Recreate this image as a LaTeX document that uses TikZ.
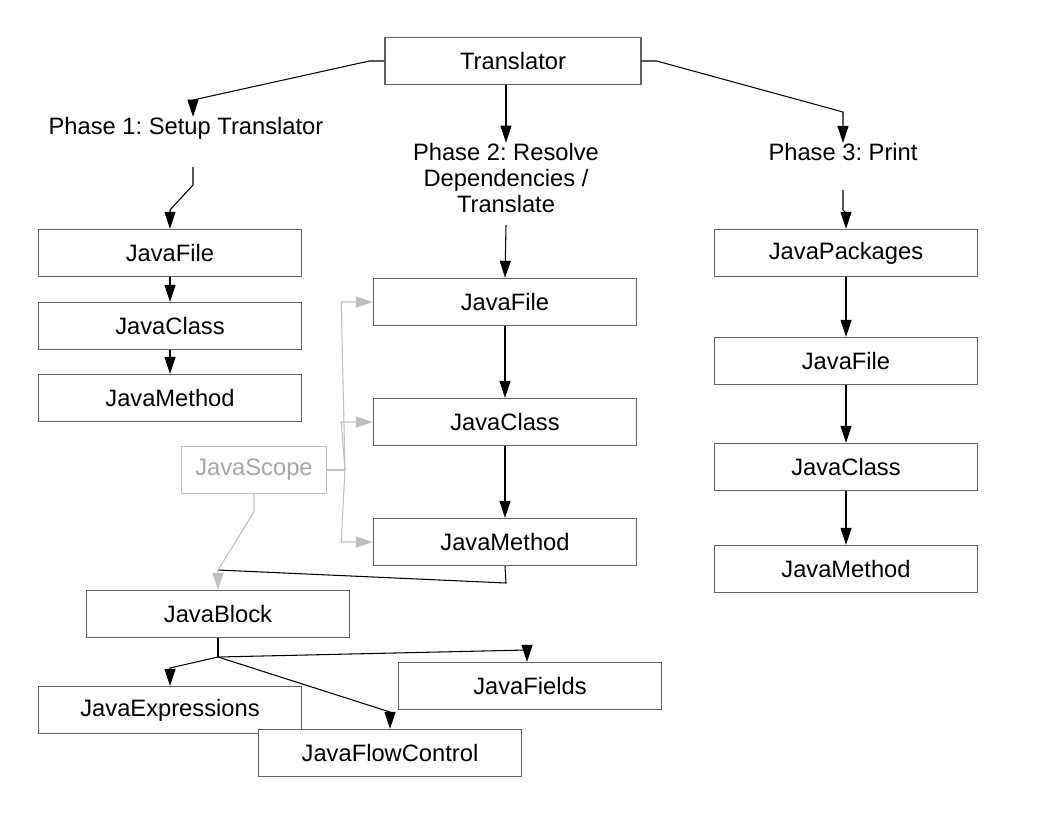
\documentclass[tikz,border=0pt]{standalone}
\usepackage{fontspec}
\setmainfont{Liberation Sans}
\usetikzlibrary{arrows.meta,positioning}
\frenchspacing

\tikzset{
  jbox/.style={draw=black!62, fill=white, line width=0.8pt, minimum width=5.26cm,
    minimum height=0.94cm, inner sep=0pt, font=\fontsize{13.5}{15}\selectfont},
  phase/.style={align=center, inner sep=0pt, font=\fontsize{13.5}{15}\selectfont},
  link/.style={-{Triangle[length=3.4mm,width=2.2mm]}, line width=0.6pt},
  ghost/.style={draw=black!25, text=black!35},
  ghostlink/.style={link, draw=black!25}
}

\begin{document}
\begin{tikzpicture}[x=0.02cm, y=-0.02cm]
  \useasboundingbox (0,0) rectangle (1056,816);

  % top
  \node[jbox, minimum width=5.12cm] (tr) at (513,61) {Translator};
  \node[phase] (p1) at (186,128) {Phase 1: Setup Translator};
  \node[phase] (p2) at (506,178) {Phase 2: Resolve\\Dependencies /\\Translate};
  \node[phase] (p3) at (843,152) {Phase 3: Print};

  % phase 1
  \node[jbox] (f1) at (170,253) {JavaFile};
  \node[jbox] (c1) at (170,326) {JavaClass};
  \node[jbox] (m1) at (170,398) {JavaMethod};

  % phase 2
  \node[jbox] (f2) at (505,302) {JavaFile};
  \node[jbox] (c2) at (505,422) {JavaClass};
  \node[jbox] (m2) at (505,542) {JavaMethod};
  \node[jbox, ghost, minimum width=2.9cm] (sc) at (254,470) {JavaScope};

  % phase 3
  \node[jbox] (pk3) at (846,253) {JavaPackages};
  \node[jbox] (f3) at (846,361) {JavaFile};
  \node[jbox] (c3) at (846,467) {JavaClass};
  \node[jbox] (m3) at (846,569) {JavaMethod};

  % block
  \node[jbox] (bl) at (218,614) {JavaBlock};
  \node[jbox] (ex) at (170,710) {JavaExpressions};
  \node[jbox] (fl) at (390,753) {JavaFlowControl};
  \node[jbox] (fd) at (530,686) {JavaFields};

  % bends
  \coordinate (t1) at (193,100);
  \coordinate (t3) at (843,112);
  \coordinate (q1) at (193,167);
  \coordinate (q1b) at (193,185);
  \coordinate (q1c) at (170,210);
  \coordinate (q2) at (506,225);
  \coordinate (q3) at (843,190);
  \coordinate (q3b) at (843,210);
  \coordinate (q3c) at (846,213);
  \coordinate (mb) at (506,583);
  \coordinate (mj) at (218,570);
  \coordinate (sb) at (254,512);
  \coordinate (sf) at (345,470);
  \coordinate (bj) at (218,657);

  % translator to phases
  \draw[link] (tr.west) -- ++(-15,0) -- (t1) -- (t1 |- p1.north);
  \draw[link] (p2.north |- tr.south) -- (p2.north);
  \draw[link] (tr.east) -- ++(15,0) -- (t3) -- (t3 |- p3.north);

  % phase 1
  \draw[link] (q1) -- (q1b) -- (q1c) -- (f1.north);
  \draw[link] (f1) -- (c1);
  \draw[link] (c1) -- (m1);

  % phase 2
  \draw[link] (q2) -- (f2.north);
  \draw[link] (f2) -- (c2);
  \draw[link] (c2) -- (m2);
  \draw[line width=0.6pt] (m2.south) -- (mb) -- (mj);
  \draw[ghostlink] (sc.south) -- (sb) -- (mj) -- (bl.north);
  \draw[black!25, line width=0.6pt] (sc.east) -- (sf);
  \foreach \t in {f2,c2,m2}
    \draw[ghostlink] (sf) -- ([xshift=-18]\t.west) -- (\t.west);

  % phase 3
  \draw[link] (q3) -- (q3b) -- (q3c) -- (pk3.north);
  \draw[link] (pk3) -- (f3);
  \draw[link] (f3) -- (c3);
  \draw[link] (c3) -- (m3);

  % block
  \draw[line width=0.6pt] (bl.south) -- (bj);
  \draw[link] (bj) -- (527,650) -- (fd.north -| 527,0);
  \draw[link] (bj) -- (170,668) -- (ex.north);
  \draw[link] (bj) -- (390,712) -- (fl.north);
  \node[jbox] at (fl) {JavaFlowControl};
\end{tikzpicture}
\end{document}
